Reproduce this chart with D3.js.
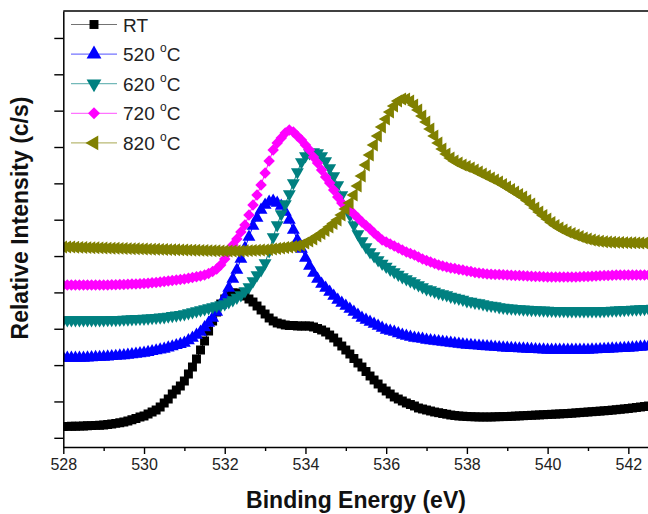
<!DOCTYPE html>
<html>
<head>
<meta charset="utf-8">
<script src="https://cdn.jsdelivr.net/npm/d3@7"></script>
<style>
  body { margin: 0; background: #fff; }
  svg { display: block; font-family: Arial, "Liberation Sans", sans-serif; }
</style>
</head>
<body>
<svg width="648" height="514"></svg>
<script>
// binding energy grid (eV), one reading every 0.1 eV
const energyStart = 528.0;
const energyStep = 0.1;

// relative intensity (arb. units)
const rtValues = [
  20.5,20.6,20.7,20.8,20.9,21,21.2,21.4,21.6,21.8,
  22,22.5,23,23.6,24.3,25,26,27.2,28.5,30,
  31,33,35,37,40,44,48,53,57,61,
  66,73,80,88,97,106,116,126,135,143,
  148,152,154,154,153,151,148,145,141,137,
  133,129,126,124,123,122,121.5,121.5,121,121,
  121,121,120,118.5,117,115,112,109,105,101,
  97,93,88.5,84,80,75.5,71,67,63,59,
  56,53,50,48,46,44,42.5,41,39,38,
  37,36,35,34.3,33.5,32.8,32,31.5,31,30.8,
  30.5,30.3,30.2,30,30,30,30,30.2,30.3,30.4,
  30.5,30.7,30.9,31.1,31.3,31.5,31.7,31.9,32.1,32.3,
  32.5,32.7,32.9,33.1,33.3,33.5,33.8,34.1,34.4,34.7,
  35,35.3,35.6,35.9,36.2,36.5,36.9,37.3,37.7,38.1,
  38.5,39,39.5,40,40.5,41,41.5
];
const t520Values = [
  89,89,89,89,89,89,89.2,89.5,89.7,89.9,
  90,90.3,90.6,90.9,91.2,91.5,92,92.5,93,93.5,
  94,94.8,95.6,96.4,97.2,98,99.2,100.4,101.6,102.8,
  104,106.5,109,112,115,119.5,124,129,135,142,
  150,159,168,177,188,199,210,221,229,237,
  242,245,246,244,241,235,227,217,207,198,
  189,181,174,168,163,159,155,151,147,144,
  141,138,135,132,129,127,125,123,121,119,
  117,116,115,113.5,112,111,110,109,108.5,108,
  107,106.5,106,105.5,105,104.5,104,103.5,103,102.5,
  102,101.7,101.4,101.1,100.8,100.5,100.2,99.9,99.6,99.3,
  99,98.8,98.6,98.4,98.2,98,97.8,97.6,97.4,97.2,
  97,97,97,97,97,97,97,97,97,97,
  97,97.2,97.4,97.6,97.8,98,98.2,98.4,98.6,98.8,
  99,99.3,99.6,100,100.3,100.6,101
];
const t620Values = [
  127,127,127,127,127,127,127,127,127,127,
  127,127.1,127.2,127.3,127.4,127.6,127.8,128,128.2,128.4,
  128.5,128.8,129.1,129.4,129.7,130,130.6,131.2,131.8,132.4,
  133,134,135,136,137,138,139,140,141,142,
  143,145,147,149.5,152,156,160,166,172,177,
  184,196,210,222,233,243,253,264,275,285,
  291,294,295,294,291,286,279,271,262,252,
  242,232,222,213,206,200,195,191,187,183.5,
  180.5,177.5,175,172.5,170,168,166,164,162,160,
  158,157,155.5,154,153,152,150.5,149.5,148.5,147.5,
  146,145.5,144.5,144,143,142,141.5,141,140,139.5,
  139,138.7,138.4,138.1,137.8,137.5,137.3,137.1,136.9,136.7,
  136.5,136.4,136.3,136.2,136.1,136,136,136,136,136,
  136,136,136,136,136.2,136.4,136.6,136.8,137,137.2,
  137.4,137.6,137.8,138,138.2,138.4,138.6
];
const t720Values = [
  162,162,162,162,162,162,162,162,162,162,
  162,162.1,162.2,162.3,162.4,162.5,162.7,162.9,163.1,163.3,
  163.5,163.8,164.2,164.6,165,165.5,166,166.5,167,167.5,
  168,168.7,169.5,170.3,171,172,173.5,175.5,178,182,
  188,195,202,208,215,222,232,242,252,262,
  274,286,297,304,309,314,317,315,311,307,
  302,297,290,284,277,270,264,257,250,244,
  240,236.5,233,229,225,221.5,218,214,210.5,207,
  205,203,201,199,197,195,193.5,192,190,188,
  186.5,185,183.5,182,181,180,179,178.5,177.5,177,
  176,175.5,174.5,174,173.5,173,172.8,172.6,172.4,172.2,
  172,171.8,171.6,171.4,171.2,171,170.8,170.6,170.4,170.2,
  170,170,170,170,170,170,170,170,170.2,170.4,
  170.6,170.8,171,171.2,171.4,171.6,171.8,172,172,172,
  172,172,172,172,172,172,172
];
const t820Values = [
  200,200,200,199.8,199.6,199.5,199.4,199.3,199.2,199.1,
  199,198.9,198.8,198.7,198.6,198.5,198.4,198.3,198.2,198.1,
  198,197.9,197.8,197.7,197.6,197.5,197.4,197.3,197.2,197.1,
  197,196.9,196.8,196.7,196.6,196.5,196.4,196.3,196.2,196.1,
  196,196,196,196,196,196.2,196.4,196.6,196.8,197,
  197,197.5,198,198.5,199,199.5,200,200.5,201,202,
  204,206,208,211,213.5,216.5,220,223.5,227,232,
  238,244,252,261,271,282,292,302,311,320,
  328,335,341,346,348,348,346,342,337,331,
  325,318,311,304,298,293,289,286,284,282,
  280.5,279,277,275,273,271,269,267,265,262.5,
  260,257.5,255,252.5,250,246.5,243,239,235,231.5,
  228,224.5,221.5,219,217,215,213.5,212,210.5,209,
  208,207,206.3,205.7,205.2,205,204.8,204.6,204.5,204.4,
  204.3,204.2,204.1,204,204,204,204
];

const seriesNames = ["RT", "520", "620", "720", "820"];
const seriesColors = ["#000000", "#0000ff", "#008080", "#ff00ff", "#808000"];
const seriesValues = [rtValues, t520Values, t620Values, t720Values, t820Values];

const xMajorTicks = [528, 530, 532, 534, 536, 538, 540, 542];
const xMinorTicks = [529, 531, 533, 535, 537, 539, 541, 543];

// plot frame
const margin = {top: 11, left: 63.3, bottom: 67};
const plotRight = 668.7;
const width = 648, height = 514;
const plotBottom = height - margin.bottom;

const svg = d3.select("svg");

const xScale = d3.scaleLinear()
  .domain([528, 543])
  .range([margin.left, plotRight]);

const yScale = d3.scaleLinear()
  .domain([0, 436])
  .range([plotBottom, margin.top]);

// y ticks have no labels, evenly spaced
const yTicks = d3.range(12).map(i => 9.2 + i * 36.35);

svg.append("defs").append("clipPath")
  .attr("id", "plot-clip")
  .append("rect")
  .attr("x", margin.left)
  .attr("y", margin.top)
  .attr("width", plotRight - margin.left)
  .attr("height", plotBottom - margin.top);

// marker shapes
const markerPath = [
  d3.symbol().type(d3.symbolSquare).size(80)(),
  d3.symbol().type(d3.symbolTriangle).size(72)(),
  d3.symbol().type(d3.symbolTriangle).size(72)(),
  d3.symbol().type(d3.symbolSquare).size(66)(),
  d3.symbol().type(d3.symbolTriangle).size(72)()
];
const markerRotate = [0, 0, 180, 45, -90];

const plot = svg.append("g").attr("clip-path", "url(#plot-clip)");

seriesValues.forEach((vals, si) => {
  const pts = vals.map((v, i) => [energyStart + i * energyStep, v]);
  const g = plot.append("g").attr("class", "series-" + seriesNames[si]);

  g.append("path")
    .datum(pts)
    .attr("fill", "none")
    .attr("stroke", seriesColors[si])
    .attr("stroke-width", 1)
    .attr("d", d3.line().x(d => xScale(d[0])).y(d => yScale(d[1])));

  g.selectAll("path.mk")
    .data(pts)
    .enter()
    .append("path")
    .attr("class", "mk")
    .attr("d", markerPath[si])
    .attr("fill", seriesColors[si])
    .attr("transform", d => `translate(${xScale(d[0])},${yScale(d[1])}) rotate(${markerRotate[si]})`);
});

// x axis
svg.append("g")
  .attr("transform", `translate(0,${plotBottom})`)
  .call(d3.axisBottom(xScale).tickValues(xMinorTicks).tickSize(4).tickFormat("").tickSizeOuter(0))
  .call(g => g.select(".domain").remove())
  .selectAll("line").attr("stroke-width", 1.4);

const xAxis = svg.append("g")
  .attr("transform", `translate(0,${plotBottom})`)
  .call(d3.axisBottom(xScale).tickValues(xMajorTicks).tickSize(7).tickPadding(5).tickSizeOuter(0));
xAxis.select(".domain").attr("stroke-width", 1.5);
xAxis.selectAll("line").attr("stroke-width", 1.4);
xAxis.selectAll("text")
  .attr("font-size", "16px")
  .attr("font-family", "Arial, 'Liberation Sans', sans-serif")
  .attr("fill", "#222");

// y axis (no labels)
const yAxis = svg.append("g")
  .attr("transform", `translate(${margin.left},0)`)
  .call(d3.axisLeft(yScale).tickValues(yTicks).tickSize(9).tickFormat("").tickSizeOuter(0));
yAxis.select(".domain").attr("stroke-width", 1.5);
yAxis.selectAll("line").attr("stroke-width", 1.4);

// top border
svg.append("line")
  .attr("x1", margin.left).attr("x2", plotRight)
  .attr("y1", margin.top).attr("y2", margin.top)
  .attr("stroke", "#000").attr("stroke-width", 1.5);

// axis titles
svg.append("text")
  .attr("x", 356)
  .attr("y", 508)
  .attr("text-anchor", "middle")
  .attr("font-size", "23px")
  .attr("font-weight", "bold")
  .attr("fill", "#111")
  .text("Binding Energy (eV)");

svg.append("text")
  .attr("transform", "translate(28,218) rotate(-90)")
  .attr("text-anchor", "middle")
  .attr("font-size", "23px")
  .attr("font-weight", "bold")
  .attr("fill", "#111")
  .text("Relative Intensity (c/s)");

// legend
const legend = svg.append("g").attr("class", "legend");
seriesNames.forEach((name, si) => {
  const ly = 24.5 + si * 29.6;
  legend.append("line")
    .attr("x1", 71).attr("x2", 117)
    .attr("y1", ly).attr("y2", ly)
    .attr("stroke", seriesColors[si])
    .attr("stroke-opacity", 0.55)
    .attr("stroke-width", 1.2);
  legend.append("path")
    .attr("d", si === 0 ? d3.symbol().type(d3.symbolSquare).size(80)()
                        : si === 3 ? d3.symbol().type(d3.symbolSquare).size(72)()
                        : d3.symbol().type(d3.symbolTriangle).size(95)())
    .attr("fill", seriesColors[si])
    .attr("transform", `translate(94,${ly}) rotate(${markerRotate[si]})`);
  const t = legend.append("text")
    .attr("x", 123)
    .attr("y", ly + 7)
    .attr("font-size", "19px")
    .attr("fill", "#222");
  if (name === "RT") {
    t.text("RT");
  } else {
    t.append("tspan").text(name + " ");
    t.append("tspan").attr("font-size", "12px").attr("dy", -9).text("o");
    t.append("tspan").attr("dy", 9).text("C");
  }
});
</script>
</body>
</html>
